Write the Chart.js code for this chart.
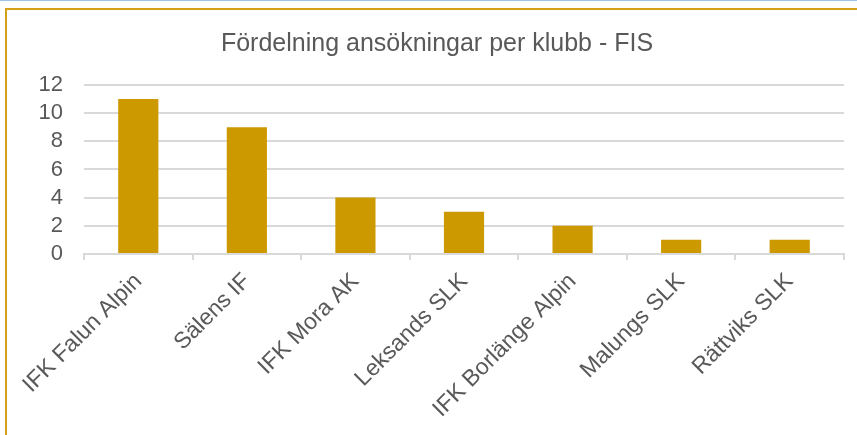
<!DOCTYPE html>
<html>
<head>
<meta charset="utf-8">
<script src="https://cdn.jsdelivr.net/npm/chart.js@4"></script>
<style>
  html, body { margin: 0; padding: 0; background: #fff; }
  body { width: 857px; height: 435px; overflow: hidden; position: relative; }
  .topline { position: absolute; left: 0; top: 0; width: 857px; height: 1px; background: #9dc3e6; }
  .frame { position: absolute; left: 5px; top: 8px; width: 852px; height: 427px;
           border-top: 2px solid #d4a017; border-left: 2px solid #d4a017; box-sizing: border-box; }
  .frame canvas { display: block; }
</style>
</head>
<body>
<div class="topline"></div>
<div class="frame">
  <canvas id="clubChart" width="850" height="425"></canvas>
</div>
<script>
const clubs = ["IFK Falun Alpin", "Sälens IF", "IFK Mora AK", "Leksands SLK", "IFK Borlänge Alpin", "Malungs SLK", "Rättviks SLK"];
const applications = [11, 9, 4, 3, 2, 1, 1];
const chartTitle = "Fördelning ansökningar per klubb - FIS";

const gold = "#cc9900";
const gridGrey = "#d9d9d9";
const textGrey = "#595959";

Chart.defaults.font.family = "'Liberation Sans', Arial, sans-serif";
Chart.defaults.color = textGrey;

new Chart(document.getElementById("clubChart"), {
  type: "bar",
  data: {
    labels: clubs,
    datasets: [
      {
        label: "Ansökningar",
        data: applications,
        backgroundColor: gold,
        categoryPercentage: 1,
        barPercentage: 0.37,
      },
    ],
  },
  options: {
    responsive: false,
    animation: false,
    layout: { padding: { left: 23, right: 13, top: 0, bottom: 4 } },
    plugins: {
      legend: { display: false },
      tooltip: { enabled: false },
      title: {
        display: true,
        text: chartTitle,
        color: textGrey,
        font: { size: 25, weight: "normal" },
        padding: { top: 19, bottom: 26 },
      },
    },
    scales: {
      y: {
        min: 0,
        max: 12,
        ticks: { stepSize: 2, autoSkip: false, color: textGrey, font: { size: 22 }, padding: 21 },
        grid: { color: gridGrey, lineWidth: 2, drawTicks: false },
        border: { display: false },
        // fixed axis width so the plot starts where the original does
        afterFit: (axis) => {
          axis.width = 54;
        },
      },
      x: {
        ticks: { color: textGrey, font: { size: 23 }, minRotation: 45, maxRotation: 45, padding: 8 },
        grid: { offset: true, drawOnChartArea: false, color: gridGrey, lineWidth: 2, tickLength: 6 },
        border: { color: gridGrey, width: 2 },
      },
    },
  },
});
</script>
</body>
</html>
